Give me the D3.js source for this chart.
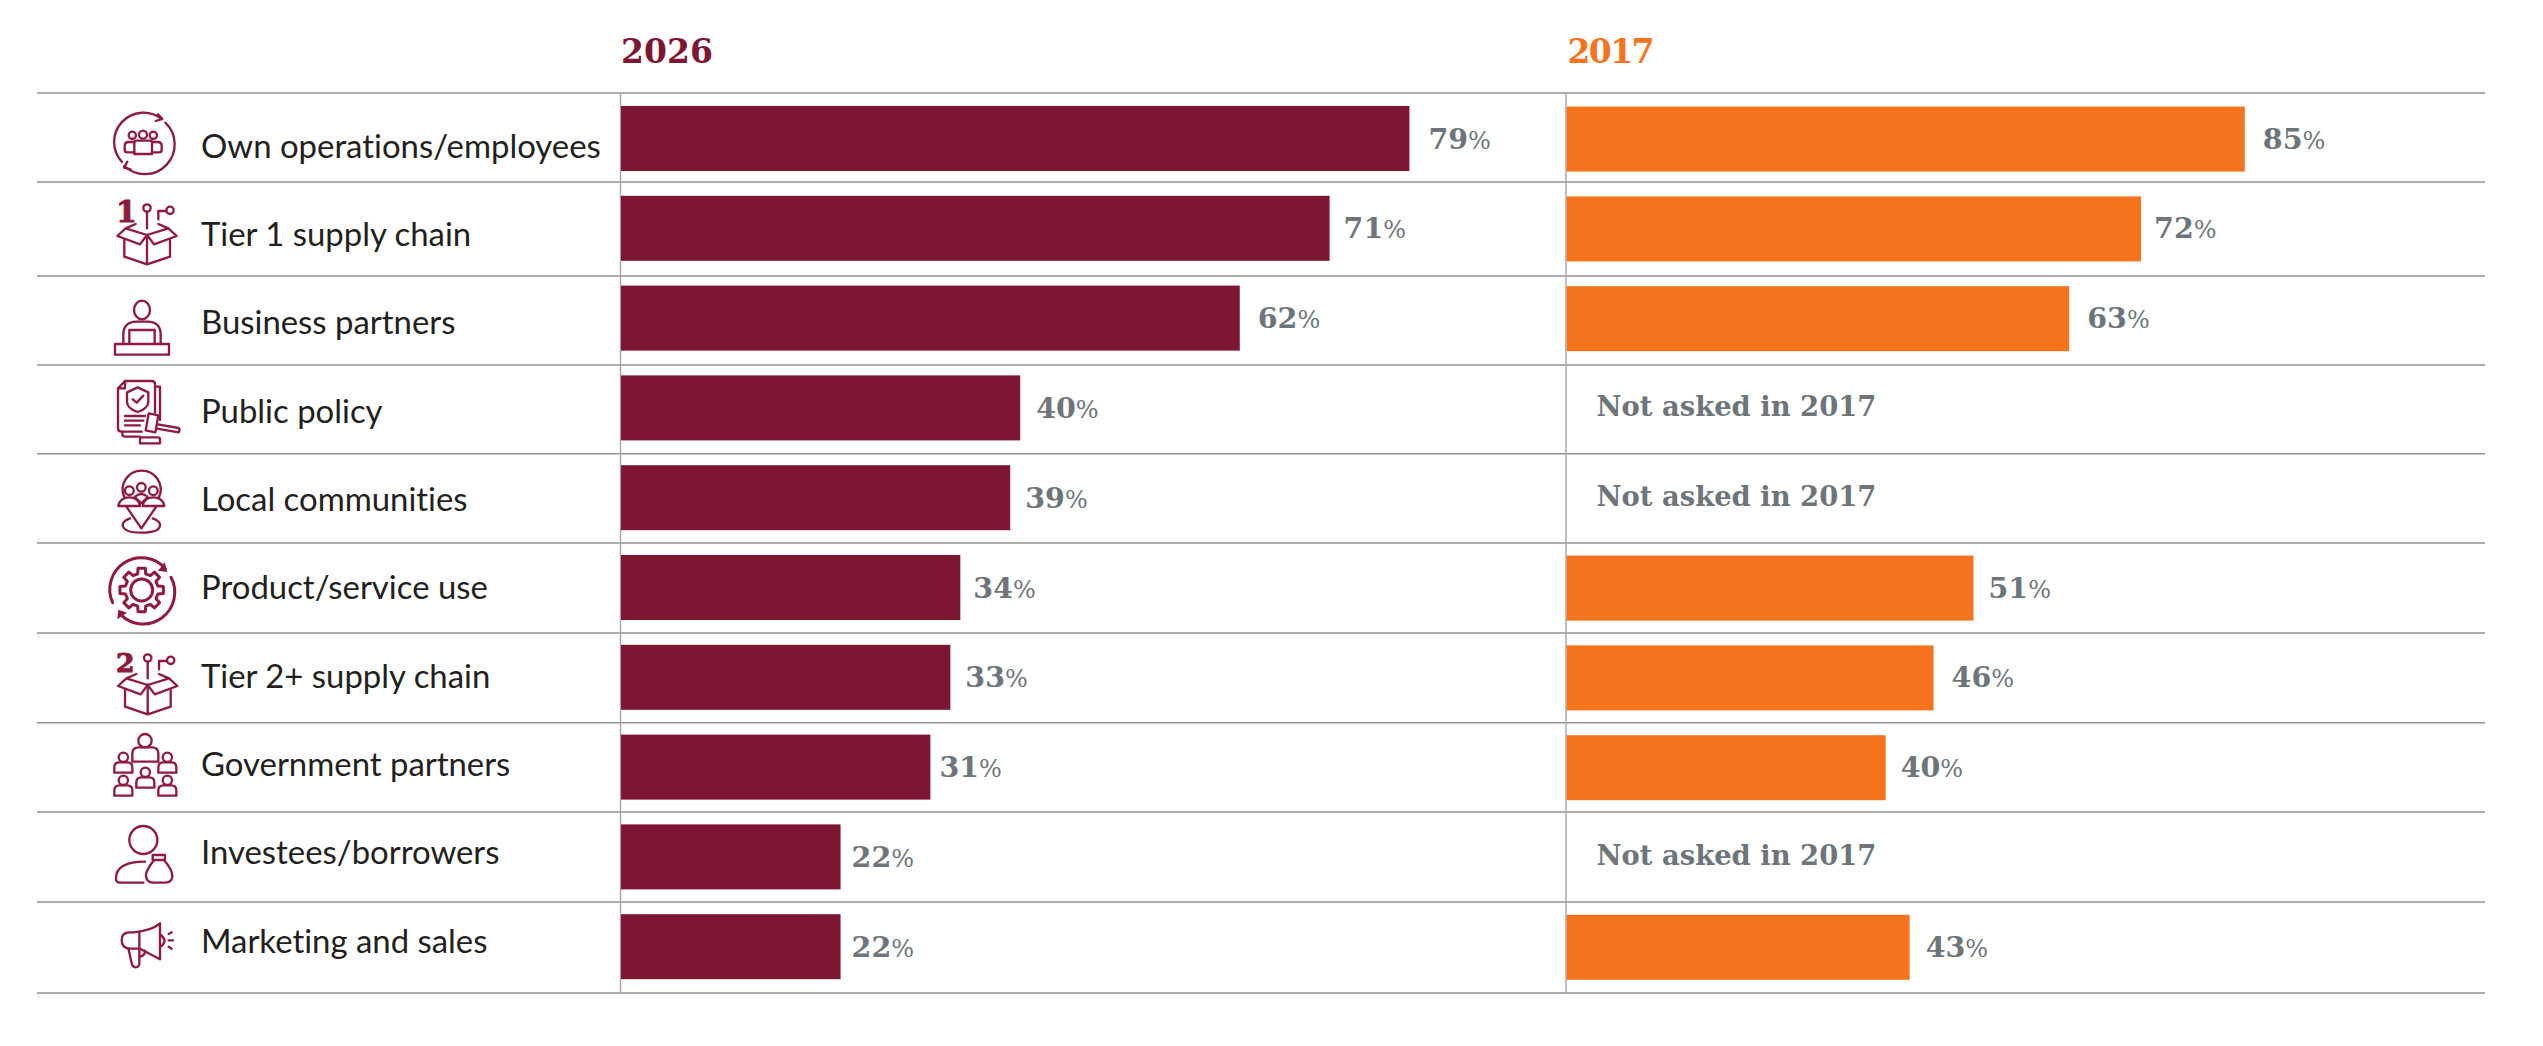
<!DOCTYPE html>
<html>
<head>
<meta charset="utf-8">
<script src="https://cdn.jsdelivr.net/npm/d3@7"></script>
<style>
  html, body { margin: 0; padding: 0; background: #fff; }
  svg { display: block; }
  .cat { font-family: Lato, sans-serif; font-size: 32.9px; fill: #231f20; font-variant-ligatures: none; }
  .val { font-family: "DejaVu Serif", serif; font-weight: 700; font-size: 28.5px; fill: #6d757b; }
  .val tspan { font-weight: 400; font-size: 24px; }
  .note { font-family: "DejaVu Serif", serif; font-weight: 700; font-size: 27.4px; fill: #6d757b; }
  .head { font-family: "DejaVu Serif", serif; font-weight: 700; font-size: 33px; }
  .icon * { fill: none; stroke: #8e1b3f; stroke-width: 7; stroke-linejoin: round; stroke-linecap: round; }
  .icon .solid { fill: #8e1b3f; stroke: none; }
  .icon .thick { stroke-width: 9; }
  .icon text { fill: #8e1b3f; stroke: #8e1b3f; stroke-width: 3; font-family: "DejaVu Serif", serif; font-weight: 700; }
</style>
</head>
<body>
<script>
// Share of respondents reporting each area of impact, by survey year
const categories = [
  "Own operations/employees", "Tier 1 supply chain", "Business partners",
  "Public policy", "Local communities", "Product/service use",
  "Tier 2+ supply chain", "Government partners", "Investees/borrowers",
  "Marketing and sales"
];
const share2026 = [79, 71, 62, 40, 39, 34, 33, 31, 22, 22];
const share2017 = [85, 72, 63, null, null, 51, 46, 40, null, 43];
const yearLabels = ["2026", "2017"];
const notAskedLabel = "Not asked in 2017";

const width = 2543, height = 1046;
const maroon = "#7d1632", orange = "#f5731d";

const svg = d3.select("body").append("svg").attr("width", width).attr("height", height);

// Each year has its own horizontal scale
const x2026 = d3.scaleLinear().domain([0, 100]).range([621, 1619]);
const x2017 = d3.scaleLinear().domain([0, 100]).range([1566.5, 2364.5]);

// Bars sit on an even band; row labels and rules follow slightly different steps
const y = d3.scaleBand().domain(categories).range([106, 979.2]).paddingInner(24.8 / 89.8).paddingOuter(0);
const barHeight = y.bandwidth();
const barTop = i => y(categories[i]);
const rowY = d3.scalePoint().domain(categories).range([157.5, 952.7]);
const ruleY = d3.scaleLinear().domain(d3.range(11))
  .range([93, 182, 276, 365, 453.7, 543, 633, 722.7, 812, 902, 993]);

// Rules
svg.append("g").selectAll("line").data(d3.range(11)).join("line")
  .attr("x1", 37).attr("x2", 2485)
  .attr("y1", d => ruleY(d)).attr("y2", d => ruleY(d))
  .attr("stroke", "#8f9396").attr("stroke-width", 1.6);
svg.append("g").selectAll("line").data([x2026(0) - 0.5, x2017(0) - 0.5]).join("line")
  .attr("x1", d => d).attr("x2", d => d)
  .attr("y1", ruleY(0)).attr("y2", ruleY(10))
  .attr("stroke", "#a2a6a9").attr("stroke-width", 1.4);

// Year headings
svg.append("g").selectAll("text").data(yearLabels).join("text")
  .attr("class", "head")
  .attr("x", (d, i) => i === 0 ? x2026(0) : x2017(0) + 1)
  .attr("y", 63)
  .attr("letter-spacing", (d, i) => i === 0 ? 0 : -1.6)
  .attr("fill", (d, i) => i === 0 ? maroon : orange)
  .text(d => d);

// Row labels
svg.append("g").selectAll("text").data(categories).join("text")
  .attr("class", "cat").attr("x", 201).attr("y", d => rowY(d)).text(d => d);

// Bars
svg.append("g").selectAll("rect").data(categories).join("rect")
  .attr("x", x2026(0)).attr("y", d => y(d))
  .attr("width", (d, i) => x2026(share2026[i]) - x2026(0)).attr("height", barHeight)
  .attr("fill", maroon);
const asked = categories.map((c, i) => i).filter(i => share2017[i] !== null);
svg.append("g").selectAll("rect").data(asked).join("rect")
  .attr("x", x2017(0)).attr("y", i => barTop(i) + 0.6)
  .attr("width", i => x2017(share2017[i]) - x2017(0)).attr("height", barHeight)
  .attr("fill", orange);

// Value labels, with the small spacing each one has after its bar
const gap2026 = [19, 14, 18, 16, 15, 13, 15, 9, 11, 11];
const gap2017 = [18, 13, 18, 0, 0, 15, 18, 15, 0, 16];
function valueLabels(values, scale, gaps, yNudge, rows) {
  const t = svg.append("g").selectAll("text").data(rows).join("text")
    .attr("class", "val")
    .attr("x", i => scale(values[i]) + gaps[i])
    .attr("y", i => barTop(i) + barHeight / 2 + yNudge);
  t.text(i => values[i]);
  t.append("tspan").text("%");
}
valueLabels(share2026, x2026, gap2026, 10, d3.range(categories.length));
valueLabels(share2017, x2017, gap2017, 10, asked);

// Placeholder where the question was not part of the earlier survey
svg.append("g").selectAll("text")
  .data(categories.map((c, i) => i).filter(i => share2017[i] === null)).join("text")
  .attr("class", "note")
  .attr("x", x2017(0) + 30)
  .attr("y", i => barTop(i) + barHeight / 2 + 8.5)
  .text(notAskedLabel);

// Line icons, sketched on a grid three times finer than the page
const path = (g, d, cls) => g.append("path").attr("d", d).attr("class", cls || null);
const ring = (g, cx, cy, r) => g.append("circle").attr("cx", cx).attr("cy", cy).attr("r", r);

function drawBox(g, label, labelX, labelSize) {
  g.append("text").attr("x", labelX).attr("y", 366).attr("font-size", labelSize).text(label);
  ring(g, 171, 324, 11);
  path(g, "M171,335 V385");
  ring(g, 240, 331, 11);
  path(g, "M205,358 V333 H229");
  path(g, "M103,420 V470 L171,493 L240,470 V420 M171,405 V493");
  path(g, "M171,405 L150,433 L82,408 L107,385 L137,372 M107,385 L171,405 L235,385 L205,372 M235,385 L260,408 L192,433 L171,405");
}
function smallPerson(g, cx, headY) {
  ring(g, cx, headY, 14);
  path(g, `M${cx - 27},${headY + 46} V${headY + 30} Q${cx - 27},${headY + 15} ${cx - 12},${headY + 15} H${cx + 12} Q${cx + 27},${headY + 15} ${cx + 27},${headY + 30} V${headY + 46} Z`);
}

// Gear outline: eight square teeth around the hub
function gearPath() {
  const teeth = 8, rOut = 66, rIn = 50, half = Math.PI / teeth;
  const pts = [];
  d3.range(teeth).forEach(k => {
    const a = k * 2 * half;
    pts.push([a - half * 0.62, rIn], [a - half * 0.42, rOut], [a + half * 0.42, rOut], [a + half * 0.62, rIn]);
  });
  return d3.lineRadial().angle(d => d[0]).radius(d => d[1]).curve(d3.curveLinearClosed)(pts);
}

const icons = [
  { dx: 0, dy: -6, draw: g => {
    path(g, "M96,186 A88,88 0 0 1 215,57");
    path(g, "M204,43 L217,57 L197,63");
    path(g, "M226,68 A88,88 0 0 1 103,198");
    path(g, "M112,185 L102,203 L122,208");
    ring(g, 127, 106, 11); ring(g, 159, 104, 12); ring(g, 190, 106, 11);
    path(g, "M133,128 Q133,122 140,122 H179 Q186,122 186,128 V162 H133 Z");
    path(g, "M133,157 H112 Q104,157 104,150 V137 Q104,126 116,126 H133");
    path(g, "M186,157 H207 Q215,157 215,150 V137 Q215,126 203,126 H186");
  }},
  { dx: 0, dy: -96, draw: g => drawBox(g, "1", 78, 90) },
  { dx: 0, dy: -6, draw: g => {
    g.append("ellipse").attr("cx", 156).attr("cy", 90).attr("rx", 24).attr("ry", 28);
    path(g, "M100,192 V165 Q100,125 140,125 H172 Q212,125 212,165 V192");
    path(g, "M118,192 V150 H194 V192");
    path(g, "M75,192 H237 V224 H75 Z");
  }},
  { dx: 0, dy: -96, draw: g => {
    path(g, "M84,325 L105,303 H185 Q195,303 195,313 V398 M84,325 V445 Q84,455 95,455 H155 M84,325 H105 V303");
    path(g, "M195,320 H210 V420 M97,456 V462 Q97,470 107,470 H150");
    path(g, "M143,322 L175,337 V365 Q175,385 143,396 Q111,385 111,365 V337 Z");
    path(g, "M128,358 L140,368 L160,347");
    path(g, "M105,408 H165 M105,422 H160 M105,436 H150");
    path(g, "M176,400 L205,406 L196,457 L167,451 Z");
    path(g, "M203,433 L266,444 Q271,450 266,457 L201,446");
    path(g, "M150,490 V478 Q150,472 158,472 H203 Q210,472 210,478 V490 Z");
  }},
  { dx: 0, dy: -6, draw: g => {
    path(g, "M103,112 A57,57 0 1 1 207,112");
    ring(g, 118, 92, 13); ring(g, 154, 82, 13); ring(g, 190, 92, 13);
    path(g, "M85,138 Q90,112 118,112 Q146,112 150,138 Z");
    path(g, "M158,138 Q162,112 190,112 Q218,112 223,138 Z");
    path(g, "M135,110 Q154,94 172,110 M135,112 L154,130 L172,112");
    path(g, "M108,138 L154,205 L200,138");
    path(g, "M120,175 Q98,183 98,195 Q100,218 154,218 Q210,218 210,195 Q210,183 188,175");
  }},
  { dx: 0, dy: -16, draw: g => {
    path(g, "M68,188 A95,95 0 0 1 226,86", "thick");
    path(g, "M243,112 A95,95 0 0 1 92,224", "thick");
    path(g, "M224,67 L232,96 L204,92 Z", "solid");
    path(g, "M82,238 L85,209 L111,218 Z", "solid");
    path(g, gearPath(), "thick").attr("transform", "translate(155,150)");
    ring(g, 155, 150, 33).attr("class", "thick");
  }},
  { dx: 0.7, dy: -96, draw: g => drawBox(g, "2", 76, 80) },
  { dx: 0, dy: -16, draw: g => {
    ring(g, 165, 62, 20);
    path(g, "M127,125 V100 Q127,82 147,82 H185 Q205,82 205,100 V125 Z");
    smallPerson(g, 100, 112); smallPerson(g, 232, 112); smallPerson(g, 166, 157);
    smallPerson(g, 100, 181); smallPerson(g, 232, 181);
  }},
  { dx: 0, dy: -106, draw: g => {
    ring(g, 160, 360, 42);
    path(g, "M165,425 Q78,425 78,475 Q78,488 90,488 H160");
    path(g, "M188,405 H225 V420 H188 Z");
    path(g, "M192,420 Q165,455 168,470 Q172,488 190,488 H225 Q245,488 247,470 Q248,450 222,420");
  }},
  { dx: 0, dy: -196, draw: g => {
    path(g, "M210,610 V718 L150,686 H118 Q95,684 95,660 Q95,637 118,637 H130 Q185,632 210,610 Z");
    path(g, "M148,637 V725 Q150,742 136,742 Q128,742 125,730 L115,685");
    path(g, "M148,710 Q165,708 165,692");
    path(g, "M212,645 Q235,662 212,680");
    path(g, "M236,642 L245,637 M236,661 H249 M236,680 L245,686");
  }}
];

const iconLayer = svg.append("g").attr("class", "icon");
categories.forEach((c, i) => {
  const g = iconLayer.append("g")
    .attr("transform", `translate(${90 + icons[i].dx},${106 + i * 90 + icons[i].dy}) scale(${1 / 3})`);
  icons[i].draw(g);
});
</script>
</body>
</html>
